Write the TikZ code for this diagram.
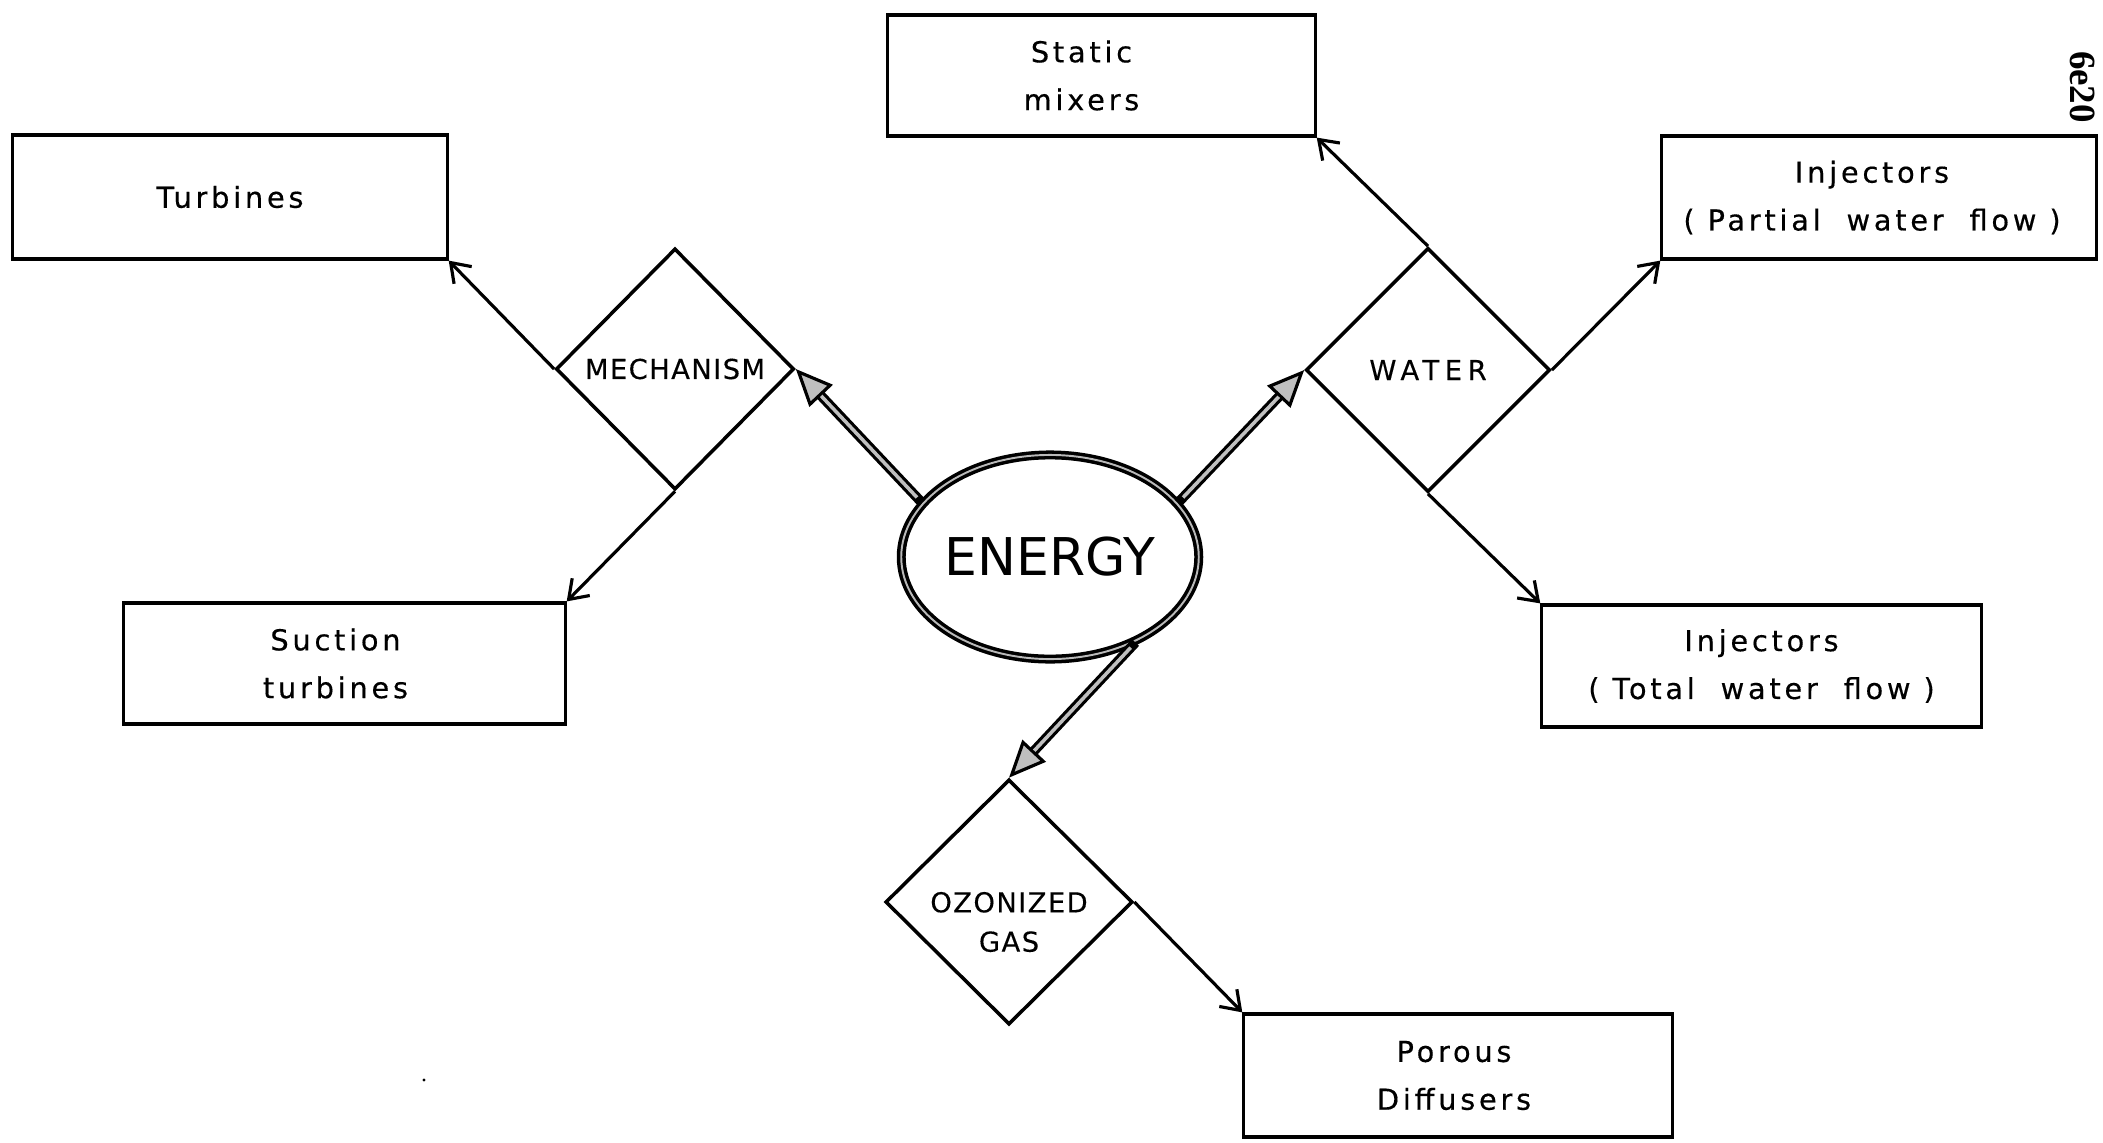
\documentclass[tikz,border=0pt]{standalone}
\usepackage{fontspec}
\setmainfont{DejaVu Sans}
\newfontfamily\lettering{DejaVu Sans}[LetterSpace=13, FakeBold=0.4]
\newfontfamily\capslettering{DejaVu Sans}[LetterSpace=5, FakeBold=0.3]
\newfontfamily\stampfont{Liberation Serif}
\usetikzlibrary{shapes.geometric,arrows.meta}

\tikzset{
  box/.style={draw, line width=0.9pt, rectangle, inner sep=0pt},
  boxtext/.style={align=center, inner sep=0pt,
    font=\lettering\fontsize{8.2}{13.6}\selectfont},
  dmd/.style={draw, diamond, aspect=1, inner sep=0pt, line width=1pt, align=center,
    font=\capslettering\fontsize{7.8}{12}\selectfont},
  dmdtext/.style={align=center, inner sep=0pt,
    font=\capslettering\fontsize{7.8}{11.2}\selectfont},
  hub/.style={draw, ellipse, line width=1pt, double=gray!55, double distance=0.55pt,
    minimum width=2.92cm, minimum height=2.04cm, inner sep=0pt,
    font=\fontsize{14.8}{16}\selectfont},
  link/.style={line width=0.9pt, -{Straight Barb[length=5pt,width=7pt,line width=0.9pt]}},
  feedouter/.style={line width=2.8pt,
    -{Triangle[length=10.5pt,width=9pt,fill=gray!50,line width=0.9pt]}},
  feedinner/.style={line width=1pt, draw=gray!50, shorten >=10.5pt, shorten <=2pt},
}

\begin{document}
\begin{tikzpicture}[x=0.01cm, y=-0.01cm]
  \useasboundingbox (0,0) rectangle (2103,1142);

  % destination boxes
  \node[box, minimum width=4.34cm, minimum height=1.24cm,
    label={[boxtext]center:Turbines}] (turb) at (230,197) {};
  \node[box, minimum width=4.41cm, minimum height=1.21cm,
    label={[boxtext, xshift=-0.09cm]center:Suction\\turbines}] (suct) at (344.5,663.5) {};
  \node[box, minimum width=4.27cm, minimum height=1.21cm,
    label={[boxtext, xshift=-0.2cm]center:Static\\mixers}] (mix) at (1101.5,75.5) {};
  \node[box, minimum width=4.34cm, minimum height=1.23cm,
    label={[boxtext, xshift=-0.07cm]center:Injectors\\( Partial\ \ water\ \ flow )}] (injp) at (1879,197.5) {};
  \node[box, minimum width=4.39cm, minimum height=1.22cm,
    label={[boxtext]center:Injectors\\( Total\ \ water\ \ flow )}] (injt) at (1761.5,666) {};
  \node[box, minimum width=4.28cm, minimum height=1.23cm,
    label={[boxtext, xshift=-0.04cm]center:Porous\\Diffusers}] (por) at (1458,1075.5) {};

  % intermediate media
  \node[dmd, minimum width=2.38cm, minimum height=2.41cm] (mech) at (675,369) {MECHANISM};
  \node[dmd, minimum width=2.44cm, minimum height=2.44cm] (water) at (1428,370)
    {\addfontfeature{LetterSpace=20}WATER};
  \node[dmd, minimum width=2.47cm, minimum height=2.45cm,
    label={[dmdtext, yshift=-0.2cm]center:OZONIZED\\GAS}] (ozone) at (1009,902) {};

  % central source
  \node[hub] (en) at (1050,557) {ENERGY};

  % energy feeds
  \draw[feedouter] (en.157) -- (mech.east);
  \draw[feedinner] (en.157) -- (mech.east);
  \draw[feedouter] (en.23) -- (water.west);
  \draw[feedinner] (en.23) -- (water.west);
  \draw[feedouter] (en.-45) -- (ozone.north);
  \draw[feedinner] (en.-45) -- (ozone.north);

  % branches to the equipment
  \draw[link] (mech.west) -- (turb.south east);
  \draw[link] (mech.south) -- (suct.north east);
  \draw[link] (water.north) -- (mix.south east);
  \draw[link] (water.east) -- (injp.south west);
  \draw[link] (water.south) -- (injt.north west);
  \draw[link] (ozone.east) -- (por.north west);

  % page stamp
  \node[font=\stampfont\bfseries\fontsize{10.5}{11}\selectfont, rotate=-90, inner sep=0pt]
    (stamp) at (2083,87) {6e20};

  % speck
  \fill (424,1080) circle (1.6);
\end{tikzpicture}
\end{document}
